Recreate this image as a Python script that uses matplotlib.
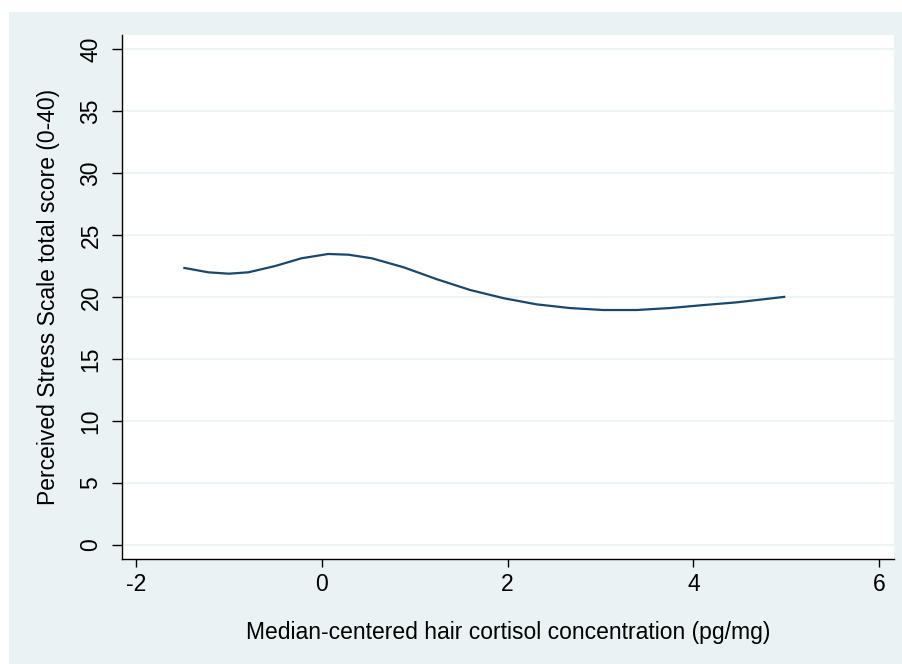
"""
Perceived stress vs. median-centered hair cortisol (Stata-style lowess curve)
"""

import matplotlib
matplotlib.use("Agg")
import matplotlib.pyplot as plt
from matplotlib.patches import Rectangle

plt.rcParams['font.family'] = ['Liberation Sans', 'DejaVu Sans']

# 曲线数据
cortisol = [-1.49, -1.22, -1.0, -0.79, -0.5, -0.22, 0.07, 0.29, 0.54, 0.88,
            1.24, 1.6, 1.96, 2.31, 2.67, 3.03, 3.39, 3.75, 4.11, 4.47, 4.99]
stress = [22.36, 21.99, 21.88, 21.99, 22.50, 23.12, 23.47, 23.41, 23.12, 22.40,
          21.43, 20.56, 19.90, 19.41, 19.11, 18.95, 18.95, 19.11, 19.35, 19.57, 20.02]

x_ticks = [-2, 0, 2, 4, 6]
y_ticks = [0, 5, 10, 15, 20, 25, 30, 35, 40]

bg = '#EAF2F3'
navy = '#1A476F'

fig = plt.figure(figsize=(9.03, 6.64), dpi=100, facecolor='white')
# Stata 图形区背景
fig.patches.append(Rectangle((9 / 903, 0), 1 - 9 / 903, 1 - 12 / 664,
                             transform=fig.transFigure, facecolor=bg,
                             edgecolor='none', zorder=-10))

ax = fig.add_axes([122 / 903, 1 - 559 / 664, (894 - 122) / 903, (559 - 35) / 664])
ax.set_zorder(5)
ax.set_facecolor('white')
ax.plot(cortisol, stress, color=navy, linewidth=1.6, zorder=3,
        solid_joinstyle='round', solid_capstyle='butt')

ax.set_xlim(-2.15, 6.16)
ax.set_ylim(-1.13, 41.13)
ax.set_xticks(x_ticks)
ax.set_yticks(y_ticks)
ax.set_xticklabels([str(v) for v in x_ticks])
ax.set_yticklabels([str(v) for v in y_ticks], rotation=90, va='center')

ax.grid(axis='y', color=bg, linewidth=1.2, zorder=1)
ax.set_axisbelow(True)

for s in ['top', 'right']:
    ax.spines[s].set_visible(False)
for s in ['left', 'bottom']:
    ax.spines[s].set_linewidth(1.0)
    ax.spines[s].set_color('black')

ax.tick_params(axis='y', length=7, width=1.0, pad=7, labelsize=16.5)
ax.tick_params(axis='x', length=6, width=1.0, pad=4, labelsize=16.5)

ax.set_xlabel('Median-centered hair cortisol concentration (pg/mg)', fontsize=16.5, labelpad=18)
ax.set_ylabel('Perceived Stress Scale total score (0-40)', fontsize=16.5, labelpad=14)

fig.savefig('out.png', dpi=100, facecolor=fig.get_facecolor())
